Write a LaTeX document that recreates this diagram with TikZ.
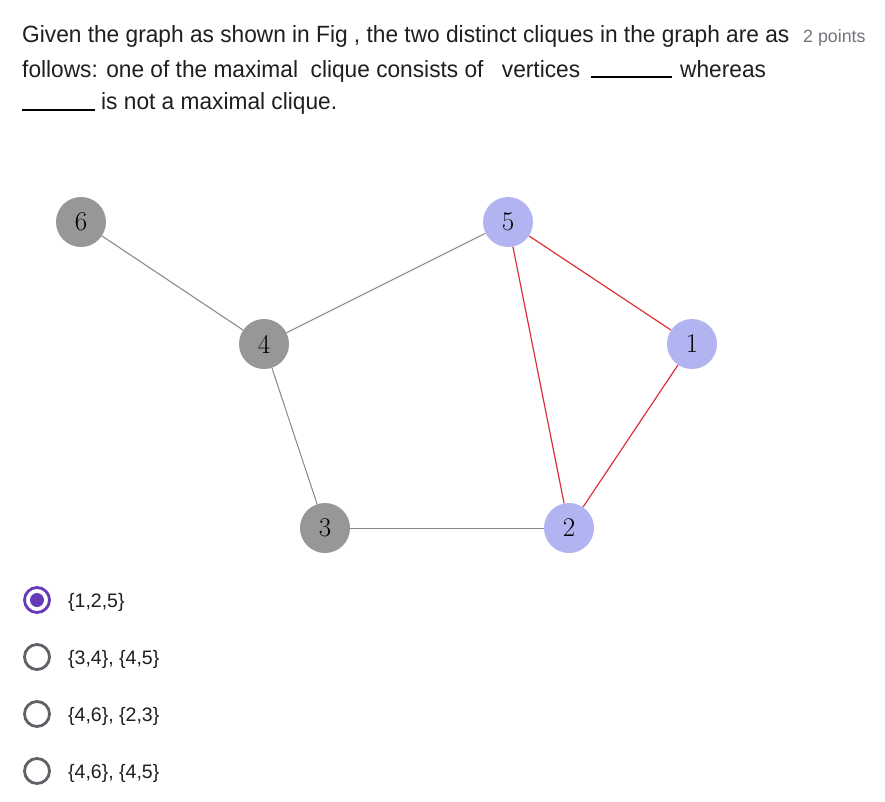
\documentclass[tikz,border=0pt]{standalone}
\usepackage{fontspec}
\newfontfamily\uifont{Liberation Sans}
\definecolor{nodegray}{HTML}{979797}
\definecolor{nodeblue}{HTML}{B1B4F1}
\definecolor{edgegray}{HTML}{888888}
\definecolor{edgered}{HTML}{DD3038}
\definecolor{radiopurple}{HTML}{673AB7}
\definecolor{radiogray}{HTML}{5F6368}
\definecolor{ptgray}{HTML}{70757A}
\begin{document}
\begin{tikzpicture}[x=1pt,y=-1pt,
  vtx/.style={circle,minimum size=50pt,inner sep=0pt,font=\fontsize{27}{27}\selectfont},
  gvtx/.style={vtx,fill=nodegray},
  bvtx/.style={vtx,fill=nodeblue},
  gedge/.style={draw=edgegray,line width=1pt},
  redge/.style={draw=edgered,line width=1.2pt},
  qtext/.style={anchor=base west,inner sep=0pt,text=black!88,font=\uifont\fontsize{23.5}{23.5}\selectfont},
  opttext/.style={anchor=base west,inner sep=0pt,text=black!88,font=\uifont\fontsize{19.5}{19.5}\selectfont},
  blank/.style={draw=black,line width=2pt},
  ring/.style={circle,minimum size=25pt,inner sep=0pt,draw=radiogray,line width=2.8pt},
  ringsel/.style={circle,minimum size=25pt,inner sep=0pt,draw=radiopurple,line width=2.8pt},
  dot/.style={circle,minimum size=14pt,inner sep=0pt,fill=radiopurple}]
\useasboundingbox[fill=white] (0,0) rectangle (885,801);
% question text
\node[qtext] (q1) at (22,42) {\scalebox{0.966}[1]{Given the graph as shown in Fig , the two distinct cliques in the graph are as}};
\node[anchor=base west,inner sep=0pt,text=ptgray,font=\uifont\fontsize{17.8}{17.8}\selectfont] (pts) at (803,42) {2 points};
\node[qtext] (q2a) at (22,77) {\scalebox{0.966}[1]{follows: one of the maximal\ \ clique consists of\ \ \hspace{6pt}vertices}};
\coordinate (b1s) at (591,77);
\coordinate (b1e) at (672,77);
\draw[blank] (b1s) -- (b1e);
\node[qtext] (q2b) at (680,77) {\scalebox{0.966}[1]{whereas}};
\coordinate (b2s) at (22,110);
\coordinate (b2e) at (95,110);
\draw[blank] (b2s) -- (b2e);
\node[qtext] (q3) at (101,109) {\scalebox{0.966}[1]{is not a maximal clique.}};
% graph
\node[gvtx] (n6) at (81,222) {6};
\node[gvtx] (n4) at (264,344) {4};
\node[bvtx] (n5) at (508,222) {5};
\node[bvtx] (n1) at (692,344) {1};
\node[gvtx] (n3) at (325,528) {3};
\node[bvtx] (n2) at (569,528) {2};
\draw[gedge] (n6) -- (n4);
\draw[gedge] (n4) -- (n5);
\draw[gedge] (n4) -- (n3);
\draw[gedge] (n3) -- (n2);
\draw[redge] (n5) -- (n1);
\draw[redge] (n5) -- (n2);
\draw[redge] (n1) -- (n2);
% options
\node[ringsel] (r1) at (37,600) {};
\node[dot] (d1) at (r1) {};
\node[opttext] (o1) at (68,607) {\{1,2,5\}};
\node[ring] (r2) at (37,657) {};
\node[opttext] (o2) at (68,664) {\{3,4\}, \{4,5\}};
\node[ring] (r3) at (37,714) {};
\node[opttext] (o3) at (68,721) {\{4,6\}, \{2,3\}};
\node[ring] (r4) at (37,771) {};
\node[opttext] (o4) at (68,778) {\{4,6\}, \{4,5\}};
\end{tikzpicture}
\end{document}
